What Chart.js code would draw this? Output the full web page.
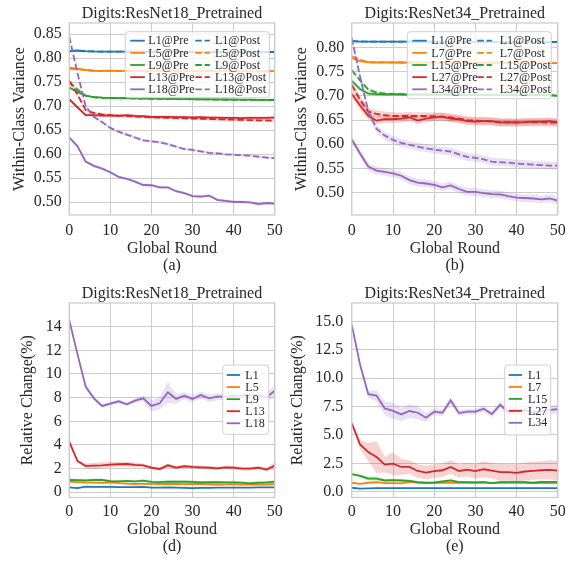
<!DOCTYPE html>
<html>
<head>
<meta charset="utf-8">
<script src="https://cdn.jsdelivr.net/npm/chart.js@4.4.1/dist/chart.umd.min.js"></script>
<style>
  html, body { margin: 0; padding: 0; background: #ffffff; }
  #wrap { position: relative; width: 565px; height: 561px; }
  #wrap canvas { position: absolute; left: 0; top: 0; width: 565px; height: 561px; }
</style>
</head>
<body>
<div id="wrap">
  <canvas id="panelA" width="565" height="561"></canvas>
  <canvas id="panelB" width="565" height="561"></canvas>
  <canvas id="panelD" width="565" height="561"></canvas>
  <canvas id="panelE" width="565" height="561"></canvas>
</div>
<script>
// ---- data ----
const rounds = [0,2,4,6,8,10,12,14,16,18,20,22,24,26,28,30,32,34,36,38,40,42,44,46,48,50];
const xTicks = [0,10,20,30,40,50];

// (a) ResNet18 within-class variance
const v18_L1_pre   = [0.8155,0.8162,0.8150,0.8142,0.8140,0.8140,0.8138,0.8138,0.8137,0.8137,0.8136,0.8136,0.8135,0.8135,0.8135,0.8134,0.8134,0.8133,0.8133,0.8133,0.8132,0.8132,0.8132,0.8131,0.8131,0.8131];
const v18_L5_pre   = [0.7805,0.7785,0.7760,0.7740,0.7738,0.7740,0.7738,0.7736,0.7737,0.7738,0.7736,0.7735,0.7736,0.7735,0.7734,0.7735,0.7734,0.7733,0.7734,0.7733,0.7733,0.7732,0.7733,0.7732,0.7732,0.7733];
const v18_L9_pre   = [0.7390,0.7300,0.7220,0.7190,0.7180,0.7175,0.7170,0.7168,0.7165,0.7162,0.7160,0.7158,0.7155,0.7153,0.7150,0.7148,0.7146,0.7145,0.7143,0.7141,0.7140,0.7138,0.7137,0.7135,0.7133,0.7140];
const v18_L13_pre  = [0.7150,0.6980,0.6815,0.6815,0.6805,0.6808,0.6800,0.6815,0.6800,0.6795,0.6780,0.6778,0.6778,0.6776,0.6776,0.6770,0.6775,0.6765,0.6762,0.6760,0.6758,0.6755,0.6760,0.6758,0.6760,0.6765];
const v18_L18_pre  = [0.635,0.617,0.585,0.576,0.570,0.5625,0.553,0.549,0.543,0.536,0.5355,0.531,0.531,0.523,0.519,0.513,0.512,0.514,0.505,0.503,0.501,0.5006,0.500,0.496,0.4985,0.497];
const v18_L1_post  = [0.8148,0.8150,0.8146,0.8141,0.8139,0.8139,0.8138,0.8137,0.8137,0.8136,0.8136,0.8135,0.8135,0.8134,0.8134,0.8134,0.8133,0.8133,0.8133,0.8132,0.8132,0.8132,0.8131,0.8131,0.8130,0.8130];
const v18_L5_post  = [0.7780,0.7770,0.7755,0.7738,0.7735,0.7737,0.7735,0.7734,0.7735,0.7735,0.7734,0.7733,0.7733,0.7733,0.7732,0.7732,0.7732,0.7731,0.7731,0.7731,0.7731,0.7730,0.7730,0.7730,0.7730,0.7730];
const v18_L9_post  = [0.7515,0.7350,0.7220,0.7188,0.7178,0.7172,0.7168,0.7165,0.7162,0.7160,0.7157,0.7155,0.7152,0.7150,0.7148,0.7146,0.7144,0.7142,0.7140,0.7138,0.7137,0.7135,0.7134,0.7132,0.7131,0.7130];
const v18_L13_post = [0.7530,0.7250,0.6920,0.6860,0.6830,0.6815,0.6805,0.6795,0.6785,0.6778,0.6770,0.6765,0.6760,0.6755,0.6750,0.6745,0.6740,0.6735,0.6730,0.6725,0.6720,0.6715,0.6712,0.6708,0.6705,0.6702];
const v18_L18_post = [0.845,0.770,0.700,0.678,0.667,0.655,0.647,0.641,0.635,0.629,0.627,0.625,0.621,0.616,0.611,0.609,0.606,0.603,0.602,0.600,0.599,0.598,0.597,0.595,0.593,0.592];

// (b) ResNet34 within-class variance
const v34_L1_pre   = [0.8125,0.8122,0.8121,0.8120,0.8120,0.8120,0.8120,0.8120,0.8119,0.8119,0.8119,0.8118,0.8118,0.8118,0.8118,0.8117,0.8117,0.8117,0.8116,0.8116,0.8116,0.8115,0.8115,0.8115,0.8114,0.8113];
const v34_L7_pre   = [0.7780,0.7720,0.7692,0.7690,0.7691,0.7690,0.7690,0.7689,0.7689,0.7689,0.7688,0.7688,0.7687,0.7687,0.7686,0.7686,0.7685,0.7685,0.7684,0.7684,0.7683,0.7682,0.7681,0.7680,0.7678,0.7676];
const v34_L15_pre  = [0.7310,0.7140,0.7045,0.7035,0.7030,0.7032,0.7030,0.7028,0.7030,0.7028,0.7025,0.7025,0.7024,0.7024,0.7023,0.7022,0.7022,0.7021,0.7020,0.7020,0.7020,0.7019,0.7018,0.7018,0.7015,0.7000];
const v34_L27_pre  = [0.7040,0.6800,0.6590,0.6488,0.6520,0.6517,0.6530,0.6558,0.6488,0.6530,0.6558,0.6570,0.6530,0.6517,0.6480,0.6467,0.6480,0.6480,0.6446,0.6457,0.6452,0.6457,0.6467,0.6467,0.6480,0.6452];
const v34_L34_pre  = [0.610,0.581,0.554,0.5455,0.543,0.540,0.535,0.526,0.5207,0.519,0.516,0.511,0.515,0.5076,0.5015,0.5015,0.499,0.497,0.4967,0.493,0.490,0.489,0.488,0.486,0.488,0.4835];
const v34_L1_post  = [0.8135,0.8126,0.8122,0.8121,0.8120,0.8120,0.8120,0.8119,0.8119,0.8119,0.8118,0.8118,0.8118,0.8117,0.8117,0.8117,0.8116,0.8116,0.8116,0.8115,0.8115,0.8115,0.8114,0.8114,0.8113,0.8113];
const v34_L7_post  = [0.7820,0.7745,0.7700,0.7693,0.7692,0.7691,0.7690,0.7690,0.7689,0.7689,0.7688,0.7688,0.7687,0.7687,0.7686,0.7686,0.7685,0.7685,0.7684,0.7684,0.7683,0.7682,0.7681,0.7680,0.7678,0.7676];
const v34_L15_post = [0.7530,0.7320,0.7130,0.7070,0.7045,0.7040,0.7035,0.7032,0.7030,0.7029,0.7027,0.7026,0.7025,0.7024,0.7023,0.7022,0.7022,0.7021,0.7020,0.7020,0.7019,0.7018,0.7018,0.7017,0.7015,0.7002];
const v34_L27_post = [0.7225,0.6920,0.6680,0.6626,0.6600,0.6584,0.6584,0.6584,0.6584,0.6584,0.6576,0.6570,0.6558,0.6530,0.6500,0.6488,0.6480,0.6467,0.6460,0.6450,0.6450,0.6452,0.6452,0.6452,0.6450,0.6450];
const v34_L34_post = [0.819,0.740,0.668,0.632,0.618,0.609,0.603,0.599,0.595,0.592,0.589,0.587,0.585,0.579,0.574,0.572,0.569,0.564,0.563,0.562,0.560,0.559,0.558,0.557,0.556,0.556];

// (d) ResNet18 relative change (%)
const c18_L1  = [0.42,0.36,0.48,0.46,0.45,0.45,0.43,0.44,0.43,0.45,0.40,0.40,0.41,0.40,0.38,0.36,0.37,0.38,0.39,0.40,0.40,0.40,0.40,0.41,0.42,0.42];
const c18_L5  = [0.90,0.86,0.83,0.82,0.80,0.85,0.78,0.74,0.70,0.73,0.72,0.70,0.70,0.70,0.69,0.70,0.70,0.68,0.66,0.67,0.68,0.64,0.66,0.68,0.66,0.70];
const c18_L9  = [1.04,1.03,1.01,1.04,1.04,0.95,0.93,0.97,0.92,0.99,0.88,0.86,0.90,0.89,0.90,0.88,0.83,0.86,0.85,0.84,0.84,0.82,0.76,0.82,0.84,0.90];
const c18_L13 = [4.28,2.65,2.23,2.25,2.28,2.34,2.37,2.39,2.31,2.28,2.08,1.97,2.28,2.08,2.20,2.14,2.11,2.08,2.03,2.11,2.08,2.00,2.00,2.08,1.92,2.25];
const c18_L18 = [14.56,11.70,8.93,7.94,7.30,7.49,7.69,7.44,7.75,7.94,7.30,7.52,8.45,7.89,8.17,7.89,8.23,7.94,8.08,8.08,8.14,8.17,8.23,8.17,8.03,8.59];

// (e) ResNet34 relative change (%)
const c34_L1  = [0.35,0.27,0.29,0.31,0.31,0.31,0.31,0.31,0.32,0.32,0.32,0.32,0.32,0.32,0.31,0.32,0.32,0.31,0.32,0.31,0.32,0.31,0.31,0.31,0.32,0.31];
const c34_L7  = [0.79,0.70,0.79,0.84,0.76,0.76,0.73,0.87,0.79,0.76,0.76,0.79,0.79,0.79,0.79,0.79,0.82,0.76,0.79,0.79,0.79,0.79,0.76,0.79,0.76,0.76];
const c34_L15 = [1.54,1.40,1.16,1.16,0.99,1.02,0.99,0.96,0.84,0.79,0.82,0.90,0.99,0.84,0.84,0.82,0.84,0.76,0.84,0.84,0.84,0.84,0.79,0.87,0.87,0.87];
const c34_L27 = [6.03,4.16,3.49,3.06,2.39,2.48,2.18,2.18,1.83,1.69,1.81,1.89,2.18,1.83,1.95,1.81,1.98,1.86,1.72,1.72,1.66,1.78,1.83,1.89,1.92,1.86];
const c34_L34 = [14.70,11.20,8.59,8.47,7.34,7.13,6.81,7.11,6.96,6.52,7.05,6.96,8.04,6.93,7.05,7.05,7.31,6.84,7.66,7.00,7.10,7.20,7.00,7.10,7.20,7.28];

// spread of the shaded bands (std over runs)
const s18_L13 = [0.10,0.15,0.20,0.25,0.25,0.25,0.20,0.20,0.20,0.15,0.15,0.15,0.15,0.15,0.15,0.15,0.15,0.15,0.15,0.15,0.15,0.15,0.15,0.15,0.15,0.30];
const s18_L18 = [0.10,0.20,0.25,0.20,0.15,0.15,0.15,0.15,0.20,0.25,0.50,0.50,0.90,0.40,0.30,0.30,0.30,0.30,0.30,0.30,0.30,0.30,0.30,0.30,0.35,0.50];
const s34_L15 = [0.10,0.15,0.20,0.20,0.15,0.15,0.12,0.12,0.10,0.10,0.10,0.10,0.10,0.10,0.10,0.10,0.10,0.10,0.10,0.10,0.10,0.10,0.10,0.10,0.10,0.10];
const s34_L27 = [0.20,0.40,0.80,1.40,0.70,1.00,0.70,0.60,0.60,0.60,0.60,0.60,0.60,0.60,0.60,0.65,0.70,0.70,0.75,0.75,0.80,0.80,0.80,0.80,0.85,0.85];
const s34_L34 = [0.10,0.30,0.30,0.50,0.60,0.70,0.60,0.60,0.60,0.40,0.30,0.30,0.30,0.25,0.25,0.25,0.25,0.30,0.30,0.30,0.30,0.30,0.30,0.30,0.35,0.40];

const ticksVar18 = [0.50,0.55,0.60,0.65,0.70,0.75,0.80,0.85];
const ticksVar34 = [0.50,0.55,0.60,0.65,0.70,0.75,0.80];
const ticksChg18 = [0,2,4,6,8,10,12,14];
const ticksChg34 = [0,2.5,5,7.5,10,12.5,15];

// ---- styling ----
const TEXT = '#262626';
const GRID = '#cccccc';
const FONT = '"Liberation Serif","Times New Roman",serif';
const DASH = [6.5, 2.8];
const COL = { blue:'#1f77b4', orange:'#ff7f0e', green:'#2ca02c', red:'#d62728', purple:'#9467bd' };

function rgba(hex, a) {
  const n = parseInt(hex.slice(1), 16);
  return `rgba(${(n >> 16) & 255},${(n >> 8) & 255},${n & 255},${a})`;
}
function spreadAt(spread, k) { return Array.isArray(spread) ? spread[k] : spread; }

function makeDatasets(series) {
  const out = [];
  series.forEach((s, i) => {
    out.push({ isBand: true, data: rounds.map((r, k) => ({ x: r, y: s.values[k] + spreadAt(s.spread, k) })),
      borderWidth: 0, borderColor: 'rgba(0,0,0,0)', pointRadius: 0, fill: '+1',
      backgroundColor: rgba(s.color, 0.2), order: 1000 });
    out.push({ isBand: true, data: rounds.map((r, k) => ({ x: r, y: s.values[k] - spreadAt(s.spread, k) })),
      borderWidth: 0, borderColor: 'rgba(0,0,0,0)', pointRadius: 0, fill: false, order: 1000 });
    out.push({ label: s.label, data: rounds.map((r, k) => ({ x: r, y: s.values[k] })),
      borderColor: s.color, borderWidth: 1.8, borderDash: s.dashed ? DASH : [],
      pointRadius: 0, fill: false, tension: 0, order: -i });
  });
  return out;
}

// frame, panel title and in-axes legend
const panelDecor = {
  id: 'panelDecor',
  afterDatasetsDraw(chart, args, opts) {
    const { ctx, chartArea: ca } = chart;
    ctx.save();
    ctx.strokeStyle = GRID;
    ctx.lineWidth = 1.25;
    ctx.strokeRect(ca.left, ca.top, ca.right - ca.left, ca.bottom - ca.top);

    ctx.fillStyle = TEXT;
    ctx.font = '16px ' + FONT;
    ctx.textAlign = 'center';
    ctx.textBaseline = 'alphabetic';
    ctx.fillText(opts.title, (ca.left + ca.right) / 2, ca.top - 5);

    const L = opts.legend;
    const bx = ca.right - L.right - L.w, by = ca.top + L.top;
    const r = 3;
    ctx.beginPath();
    ctx.moveTo(bx + r, by);
    ctx.lineTo(bx + L.w - r, by); ctx.arcTo(bx + L.w, by, bx + L.w, by + r, r);
    ctx.lineTo(bx + L.w, by + L.h - r); ctx.arcTo(bx + L.w, by + L.h, bx + L.w - r, by + L.h, r);
    ctx.lineTo(bx + r, by + L.h); ctx.arcTo(bx, by + L.h, bx, by + L.h - r, r);
    ctx.lineTo(bx, by + r); ctx.arcTo(bx, by, bx + r, by, r);
    ctx.closePath();
    ctx.fillStyle = 'rgba(255,255,255,0.8)';
    ctx.fill();
    ctx.strokeStyle = '#d0d0d0';
    ctx.lineWidth = 1;
    ctx.stroke();

    const entries = chart.data.datasets.filter(d => !d.isBand);
    ctx.font = '12px ' + FONT;
    ctx.textAlign = 'left';
    ctx.textBaseline = 'middle';
    entries.forEach((d, i) => {
      const col = Math.floor(i / L.rows), row = i % L.rows;
      const y = by + L.row0 + row * L.rowStep;
      const hx = bx + L.colX[col];
      ctx.strokeStyle = d.borderColor;
      ctx.lineWidth = 1.8;
      ctx.setLineDash(d.borderDash || []);
      ctx.beginPath();
      ctx.moveTo(hx, y); ctx.lineTo(hx + L.handleLen, y);
      ctx.stroke();
      ctx.setLineDash([]);
      ctx.fillStyle = TEXT;
      ctx.fillText(d.label, bx + L.textX[col], y + 0.5);
    });
    ctx.restore();
  }
};

function makePanel(id, p) {
  return new Chart(document.getElementById(id), {
    type: 'line',
    data: { datasets: makeDatasets(p.series) },
    options: {
      responsive: false, animation: false, events: [],
      layout: { padding: p.pad },
      plugins: {
        legend: { display: false }, tooltip: { enabled: false }, title: { display: false },
        panelDecor: { title: p.title, legend: p.legend }
      },
      scales: {
        x: {
          type: 'linear', min: 0, max: 50,
          afterBuildTicks: s => { s.ticks = xTicks.map(v => ({ value: v })); },
          afterFit: s => { s.height = p.xHeight; s.paddingLeft = 0; s.paddingRight = 0; },
          grid: { color: GRID, lineWidth: 1, drawTicks: false },
          border: { display: false },
          ticks: { color: TEXT, font: { family: FONT, size: 16 }, padding: p.xTickPad,
                   maxRotation: 0, autoSkip: false, callback: v => String(v) },
          title: { display: true, text: ['Global Round', p.caption], color: TEXT,
                   font: { family: FONT, size: 16, lineHeight: 1.03 }, padding: { top: 0, bottom: 6 } }
        },
        y: {
          type: 'linear', min: p.yMin, max: p.yMax,
          afterBuildTicks: s => { s.ticks = p.yTicks.map(v => ({ value: v })); },
          afterFit: s => { s.width = p.yWidth; s.paddingTop = 0; s.paddingBottom = 0; },
          grid: { color: GRID, lineWidth: 1, drawTicks: false },
          border: { display: false },
          ticks: { color: TEXT, font: { family: FONT, size: 16 }, padding: p.yTickPad,
                   autoSkip: false, callback: v => Number(v).toFixed(p.decimals) },
          title: { display: true, text: p.yTitle, color: TEXT,
                   font: { family: FONT, size: 16, lineHeight: 1.2 }, padding: { top: p.yTitlePad, bottom: 0 } }
        }
      }
    },
    plugins: [panelDecor]
  });
}

const legendTop2 = { rows: 5, top: 8.7, w: 144, handleLen: 14.5, row0: 9, rowStep: 12.15 };

makePanel('panelA', {
  title: 'Digits:ResNet18_Pretrained', caption: '(a)', yTitle: 'Within-Class Variance',
  pad: { left: 0, top: 23, right: 290.2, bottom: 281 }, xHeight: 65, yWidth: 69.2,
  xTickPad: 6, yTickPad: 7.5, yTitlePad: 10.1,
  yMin: 0.4735, yMax: 0.8735, yTicks: ticksVar18, decimals: 2,
  legend: Object.assign({}, legendTop2, { right: 5.5, h: 66, colX: [5, 70], textX: [23, 89.7] }),
  series: [
    { label: 'L1@Pre',   values: v18_L1_pre,   color: COL.blue,   spread: 0.0008 },
    { label: 'L5@Pre',   values: v18_L5_pre,   color: COL.orange, spread: 0.0012 },
    { label: 'L9@Pre',   values: v18_L9_pre,   color: COL.green,  spread: 0.0018 },
    { label: 'L13@Pre',  values: v18_L13_pre,  color: COL.red,    spread: 0.003 },
    { label: 'L18@Pre',  values: v18_L18_pre,  color: COL.purple, spread: 0.003 },
    { label: 'L1@Post',  values: v18_L1_post,  color: COL.blue,   spread: 0.0008, dashed: true },
    { label: 'L5@Post',  values: v18_L5_post,  color: COL.orange, spread: 0.0012, dashed: true },
    { label: 'L9@Post',  values: v18_L9_post,  color: COL.green,  spread: 0.0018, dashed: true },
    { label: 'L13@Post', values: v18_L13_post, color: COL.red,    spread: 0.003,  dashed: true },
    { label: 'L18@Post', values: v18_L18_post, color: COL.purple, spread: 0.003,  dashed: true }
  ]
});

makePanel('panelB', {
  title: 'Digits:ResNet34_Pretrained', caption: '(b)', yTitle: 'Within-Class Variance',
  pad: { left: 282, top: 23, right: 7.2, bottom: 281 }, xHeight: 65, yWidth: 69.8,
  xTickPad: 6, yTickPad: 7.5, yTitlePad: 10.1,
  yMin: 0.4539, yMax: 0.8506, yTicks: ticksVar34, decimals: 2,
  legend: Object.assign({}, legendTop2, { right: 6.5, h: 67, colX: [5, 70], textX: [24, 92.4] }),
  series: [
    { label: 'L1@Pre',   values: v34_L1_pre,   color: COL.blue,   spread: 0.001 },
    { label: 'L7@Pre',   values: v34_L7_pre,   color: COL.orange, spread: 0.0015 },
    { label: 'L15@Pre',  values: v34_L15_pre,  color: COL.green,  spread: 0.003 },
    { label: 'L27@Pre',  values: v34_L27_pre,  color: COL.red,    spread: 0.008 },
    { label: 'L34@Pre',  values: v34_L34_pre,  color: COL.purple, spread: 0.008 },
    { label: 'L1@Post',  values: v34_L1_post,  color: COL.blue,   spread: 0.001,  dashed: true },
    { label: 'L7@Post',  values: v34_L7_post,  color: COL.orange, spread: 0.0015, dashed: true },
    { label: 'L15@Post', values: v34_L15_post, color: COL.green,  spread: 0.003,  dashed: true },
    { label: 'L27@Post', values: v34_L27_post, color: COL.red,    spread: 0.008,  dashed: true },
    { label: 'L34@Post', values: v34_L34_post, color: COL.purple, spread: 0.008,  dashed: true }
  ]
});

makePanel('panelD', {
  title: 'Digits:ResNet18_Pretrained', caption: '(d)', yTitle: 'Relative Change(%)',
  pad: { left: 0, top: 303, right: 290.2, bottom: 0 }, xHeight: 63.5, yWidth: 69.2,
  xTickPad: 4.5, yTickPad: 7.5, yTitlePad: 18.4,
  yMin: -0.44, yMax: 16.0, yTicks: ticksChg18, decimals: 0,
  legend: { rows: 5, right: 6.1, top: 62, w: 46, h: 69.3, colX: [4], textX: [22.6], handleLen: 13.3, row0: 10, rowStep: 12.07 },
  series: [
    { label: 'L1',  values: c18_L1,  color: COL.blue,   spread: 0.03 },
    { label: 'L5',  values: c18_L5,  color: COL.orange, spread: 0.05 },
    { label: 'L9',  values: c18_L9,  color: COL.green,  spread: 0.12 },
    { label: 'L13', values: c18_L13, color: COL.red,    spread: s18_L13 },
    { label: 'L18', values: c18_L18, color: COL.purple, spread: s18_L18 }
  ]
});

makePanel('panelE', {
  title: 'Digits:ResNet34_Pretrained', caption: '(e)', yTitle: 'Relative Change(%)',
  pad: { left: 282, top: 303, right: 7.2, bottom: 0 }, xHeight: 63.5, yWidth: 69.8,
  xTickPad: 4.5, yTickPad: 8.5, yTitlePad: 6.6,
  yMin: -0.51, yMax: 16.63, yTicks: ticksChg34, decimals: 1,
  legend: { rows: 5, right: 7.1, top: 62, w: 46, h: 70, colX: [4], textX: [23.3], handleLen: 13.3, row0: 10, rowStep: 11.95 },
  series: [
    { label: 'L1',  values: c34_L1,  color: COL.blue,   spread: 0.03 },
    { label: 'L7',  values: c34_L7,  color: COL.orange, spread: 0.05 },
    { label: 'L15', values: c34_L15, color: COL.green,  spread: s34_L15 },
    { label: 'L27', values: c34_L27, color: COL.red,    spread: s34_L27 },
    { label: 'L34', values: c34_L34, color: COL.purple, spread: s34_L34 }
  ]
});
</script>
</body>
</html>
